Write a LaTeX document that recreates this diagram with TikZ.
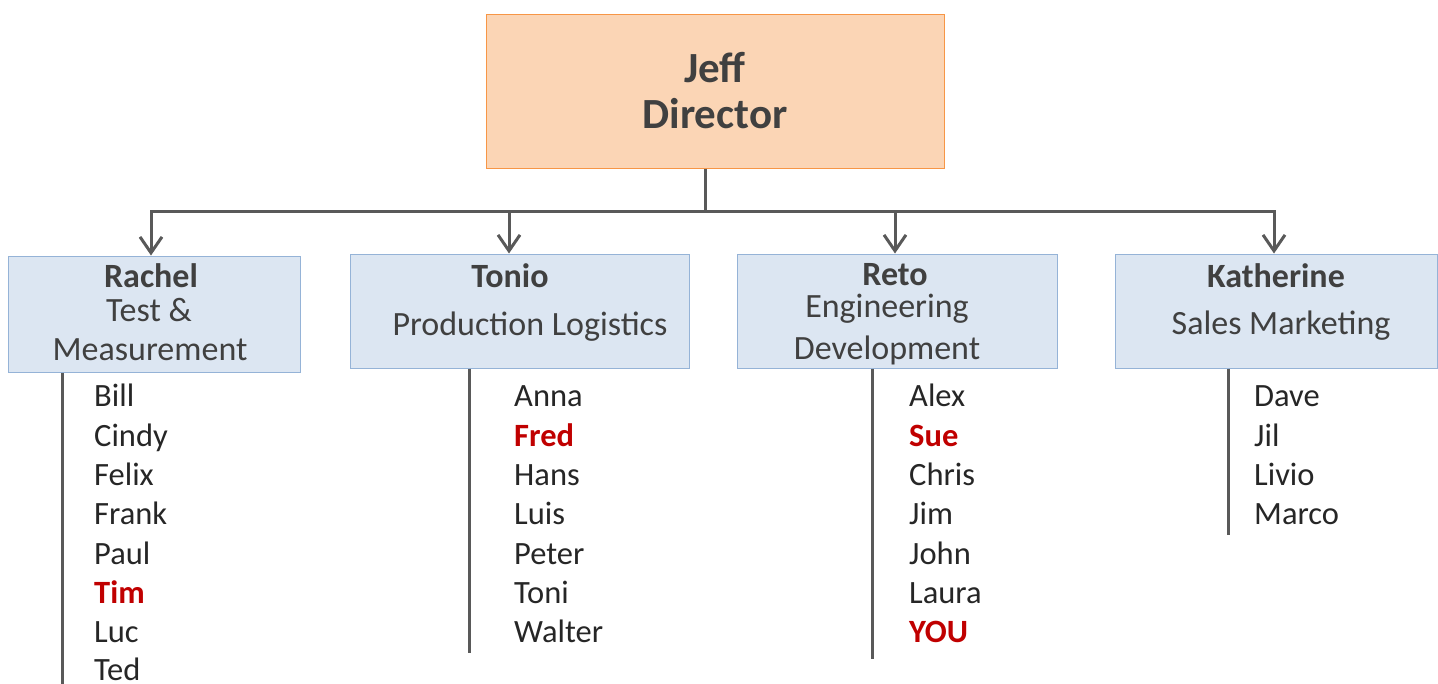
\documentclass[tikz,border=0pt]{standalone}
\usepackage{fontspec}
\setmainfont{Carlito}
\usetikzlibrary{arrows.meta}
\definecolor{bossfill}{HTML}{FBD5B5}
\definecolor{bossline}{HTML}{F79646}
\definecolor{deptfill}{HTML}{DCE6F2}
\definecolor{deptline}{HTML}{95B3D7}
\definecolor{wire}{HTML}{595959}
\definecolor{headtext}{HTML}{404040}
\definecolor{nametext}{HTML}{262626}
\definecolor{marked}{HTML}{C00000}
\tikzset{
  boss/.style={draw=bossline, fill=bossfill, line width=1pt, align=center,
    text=headtext, font=\fontsize{43}{46}\selectfont\bfseries},
  dept/.style={draw=deptline, fill=deptfill, line width=1pt},
  title/.style={text=headtext, inner sep=0pt, font=\fontsize{34}{40}\selectfont},
  member/.style={anchor=base west, inner sep=0pt, text=nametext,
    font=\fontsize{32.5}{38}\selectfont},
  hl/.style={text=marked, font=\fontsize{32.5}{38}\selectfont\bfseries},
  link/.style={draw=wire, line width=3pt, -{Straight Barb[length=16pt,width=22pt]}},
  stem/.style={draw=wire, line width=3pt}
}
\begin{document}
\begin{tikzpicture}[x=1pt,y=-1pt]
  \useasboundingbox (0,0) rectangle (1438,683);
  % boxes
  \node[boss, minimum width=458pt, minimum height=154pt] (jeff) at (715,91) {Jeff\\Director};
  \node[dept, minimum width=292pt, minimum height=116pt] (rachel) at (154,314) {};
  \node[dept, minimum width=339pt, minimum height=114pt] (tonio) at (519.5,311) {};
  \node[dept, minimum width=320pt, minimum height=114pt] (reto) at (897,311) {};
  \node[dept, minimum width=322pt, minimum height=114pt] (katherine) at (1276.5,311) {};
  % box texts
  \path[every node/.style={title}]
    (151,276) node (rachel-n){\bfseries Rachel}
    (149,310) node (rachel-d1){Test \&}
    (150,350) node (rachel-d2){Measurement}
    (510,276) node (tonio-n){\bfseries Tonio}
    (530,327) node (tonio-d){Production Logistics}
    (895,275) node (reto-n){\bfseries Reto}
    (887,309) node (reto-d1){Engineering}
    (887,350) node (reto-d2){Development}
    (1276,276) node (katherine-n){\bfseries Katherine}
    (1281,326) node (katherine-d){Sales Marketing};
  % connectors
  \coordinate (bus) at (705,211);
  \draw[stem] ([xshift=-10pt]jeff.south) -- (bus);
  \draw[link] (bus) -| ([xshift=-3pt]rachel.north);
  \draw[link] (bus) -| ([xshift=-10.5pt]tonio.north);
  \draw[link] (bus) -| ([xshift=-2pt]reto.north);
  \draw[link] (bus) -| ([xshift=-2.5pt]katherine.north);
  % list lines
  \draw[stem] ([xshift=55pt]rachel.south west) -- ++(0,311);
  \draw[stem] ([xshift=120pt]tonio.south west) -- ++(0,284);
  \draw[stem] ([xshift=136pt]reto.south west) -- ++(0,290);
  \draw[stem] ([xshift=113pt]katherine.south west) -- ++(0,166);
  % members
  \path[every node/.style={member}]
    (94,406) node (bill){Bill}
    (94,446) node (cindy){Cindy}
    (94,485) node (felix){Felix}
    (94,524) node (frank){Frank}
    (94,564) node (paul){Paul}
    (94,603) node[hl] (tim){Tim}
    (94,642) node (luc){Luc}
    (94,680) node (ted){Ted}
    (514,406) node (anna){Anna}
    (514,446) node[hl] (fred){Fred}
    (514,485) node (hans){Hans}
    (514,524) node (luis){Luis}
    (514,564) node (peter){Peter}
    (514,603) node (toni){Toni}
    (514,642) node (walter){Walter}
    (909,406) node (alex){Alex}
    (909,446) node[hl] (sue){Sue}
    (909,485) node (chris){Chris}
    (909,524) node (jim){Jim}
    (909,564) node (john){John}
    (909,603) node (laura){Laura}
    (909,642) node[hl] (you){YOU}
    (1254,406) node (dave){Dave}
    (1254,446) node (jil){Jil}
    (1254,485) node (livio){Livio}
    (1254,524) node (marco){Marco};
\end{tikzpicture}
\end{document}
